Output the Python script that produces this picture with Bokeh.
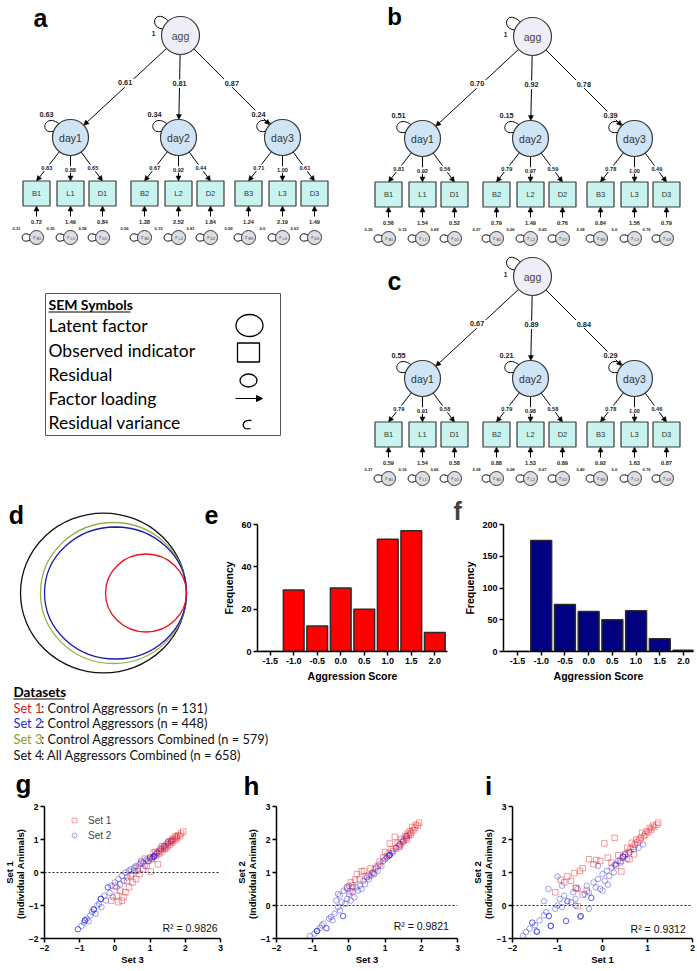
import math
from bokeh.plotting import figure
from bokeh.layouts import column, row
from bokeh.models import (Range1d, Label, Span, Legend, LegendItem, ColumnDataSource,
                          FixedTicker, Arrow, NormalHead, PrintfTickFormatter)
from bokeh.core.properties import value
from bokeh.embed import file_html
from bokeh.resources import INLINE

FONT = "Liberation Sans"
CAL = "Lato"

# ------------------------------------------------------------------ data
indicator_names = ["B1", "L1", "D1", "B2", "L2", "D2", "B3", "L3", "D3"]
day_names = ["day1", "day2", "day3"]

a_agg_var = 1
a_agg_loadings = [0.61, 0.81, 0.87]
a_day_variances = [0.63, 0.34, 0.24]
a_indicator_loadings = [0.83, 0.88, 0.65, 0.67, 0.92, 0.44, 0.71, 1.00, 0.61]
a_residual_loadings = [0.72, 1.49, 0.84, 1.38, 2.52, 1.84, 1.24, 2.19, 1.49]
a_residual_variances = [0.31, 0.35, 0.58, 0.56, 0.15, 0.81, 0.59, 0.0, 0.63]

b_agg_var = 1
b_agg_loadings = [0.70, 0.92, 0.78]
b_day_variances = [0.51, 0.15, 0.39]
b_indicator_loadings = [0.81, 0.92, 0.56, 0.79, 0.97, 0.59, 0.78, 1.00, 0.49]
b_residual_loadings = [0.56, 1.54, 0.52, 0.79, 1.49, 0.76, 0.84, 1.56, 0.79]
b_residual_variances = [0.35, 0.15, 0.69, 0.37, 0.06, 0.65, 0.38, 0.0, 0.76]

c_agg_var = 1
c_agg_loadings = [0.67, 0.89, 0.84]
c_day_variances = [0.55, 0.21, 0.29]
c_indicator_loadings = [0.79, 0.91, 0.58, 0.79, 0.98, 0.58, 0.78, 1.00, 0.46]
c_residual_loadings = [0.59, 1.54, 0.58, 0.88, 1.53, 0.89, 0.92, 1.63, 0.87]
c_residual_variances = [0.37, 0.16, 0.66, 0.38, 0.08, 0.67, 0.40, 0.0, 0.76]

sem_symbol_names = ["Latent factor", "Observed indicator", "Residual", "Factor loading", "Residual variance"]

set_names = ["Set 1", "Set 2", "Set 3", "Set 4"]
set_desc = [": Control Aggressors (n = 131)", ": Control Aggressors (n = 448)",
            ": Control Aggressors Combined (n = 579)", ": All Aggressors Combined (n = 658)"]

score_bins = [-1.5, -1.0, -0.5, 0.0, 0.5, 1.0, 1.5, 2.0]
set1_freq = [0, 29, 12, 30, 20, 53, 57, 9]
set2_freq = [0, 175, 74, 63, 50, 64, 20, 2]

g_set1_x = [1.94, 1.88, 1.85, 1.80, 1.76, 1.72, 1.70, 1.66, 1.62, 1.60, 1.56, 1.52, 1.50, 1.46, 1.42, 1.40,
            1.36, 1.32, 1.30, 1.26, 1.22, 1.20, 1.15, 1.10, 1.05, 1.02, 1.00, 0.95, 0.90, 0.85, 0.80, 0.75,
            0.70, 0.65, 0.60, 0.55, 0.50, 0.45, 0.40, 0.35, 0.30, 0.25, 0.20, 0.15, 0.10, 0.05, 0.00, -0.10,
            1.55, 1.65, 1.75, 1.45, 1.35, 1.25, 1.15]
g_set1_y = [1.24, 1.18, 1.10, 1.13, 1.05, 1.00, 1.08, 0.95, 0.98, 0.90, 0.85, 0.92, 0.80, 0.84, 0.72, 0.78,
            0.70, 0.62, 0.74, 0.58, 0.25, 0.55, 0.50, 0.60, 0.40, 0.03, 0.45, 0.35, 0.20, 0.42, 0.10, 0.30,
            -0.05, 0.15, -0.20, 0.05, -0.30, -0.10, -0.45, -0.25, -0.60, -0.75, -0.85, -0.55, -0.90, -0.70, -0.40, -0.85,
            0.95, 1.02, 1.10, 0.75, 0.80, 0.65, 0.62]
g_set2_x = [-1.05, -1.05, -0.95, -0.88, -0.85, -0.85, -0.85, -0.80, -0.75, -0.70, -0.65, -0.60, -0.60, -0.60,
            -0.55, -0.50, -0.45, -0.40, -0.40, -0.40, -0.38, -0.30, -0.25, -0.20, -0.20, -0.15, -0.10, -0.05,
            0.00, 0.05, 0.10, 0.15, 0.20, 0.25, 0.30, 0.35, 0.40, 0.45, 0.50, 0.55, 0.60, 0.65, 0.70, 0.75,
            0.80, 0.85, 0.90, 0.95, 1.00, 1.05, 1.10, 1.10, 1.10, 1.12, 1.15, 1.20, 1.30, 1.40, 1.50, 1.60]
g_set2_y = [-1.72, -1.72, -1.62, -1.52, -1.45, -1.45, -1.45, -1.40, -1.48, -1.30, -1.20, -1.12, -1.12, -1.12,
            -1.25, -1.00, -0.95, -0.80, -0.80, -0.80, -1.05, -0.70, -0.85, -0.45, -0.45, -0.62, -0.40, -0.75,
            -0.30, -0.45, -0.20, -0.35, -0.10, -0.25, 0.00, -0.15, 0.05, 0.10, -0.05, 0.15, 0.20, 0.05, 0.25, 0.35,
            0.30, 0.20, 0.40, 0.35, 0.45, 0.42, 0.48, 0.48, 0.48, 0.50, 0.55, 0.60, 0.70, 0.80, 0.90, 0.95]

h_set1_x = [1.94, 1.90, 1.85, 1.82, 1.78, 1.75, 1.72, 1.68, 1.65, 1.62, 1.58, 1.55, 1.52, 1.48, 1.45, 1.42,
            1.38, 1.35, 1.30, 1.27, 1.22, 1.18, 1.13, 1.10, 1.05, 1.00, 0.95, 0.85, 0.80, 0.72, 0.67, 0.60,
            0.55, 0.49, 0.42, 0.35, 0.30, 0.22, 0.17, 0.10, 0.03, -0.05, 0.05, 1.60, 1.70, 1.40]
h_set1_y = [2.51, 2.42, 2.45, 2.35, 2.28, 2.38, 2.20, 2.25, 2.12, 2.18, 2.05, 2.10, 1.98, 1.92, 2.02, 1.85,
            1.78, 1.90, 1.72, 2.08, 1.65, 1.70, 1.88, 1.58, 1.50, 1.62, 1.45, 1.33, 1.20, 1.10, 0.98, 1.12,
            0.92, 0.88, 1.05, 1.03, 0.80, 0.95, 0.78, 0.60, 0.43, 0.55, 0.70, 2.00, 2.15, 1.80]
h_set2_x = [-1.08, -0.95, -0.88, -0.88, -0.88, -0.80, -0.75, -0.70, -0.62, -0.62, -0.55, -0.50, -0.45, -0.40,
            -0.35, -0.30, -0.25, -0.20, -0.16, -0.16, -0.10, -0.05, 0.00, 0.05, 0.10, 0.15, 0.20, 0.25, 0.30,
            0.35, 0.40, 0.45, 0.50, 0.55, 0.60, 0.65, 0.70, 0.75, 0.80, 0.85, 0.90, 0.95, 1.00, 1.05, 1.10,
            1.13, 1.13, 1.13, 1.20, 1.30, 1.40, 1.50, 1.60, -0.25, -0.15, -0.05, 0.10, 0.00, -0.30]
h_set2_y = [-0.92, -0.85, -0.77, -0.77, -0.77, -0.68, -0.60, -0.55, -0.69, -0.69, -0.40, -0.35, -0.45, -0.25,
            0.15, -0.05, -0.15, 0.10, -0.32, -0.32, 0.05, 0.20, 0.35, 0.15, 0.40, 0.25, 0.55, 0.45, 0.60,
            0.50, 0.75, 0.65, 0.85, 0.80, 0.90, 1.00, 0.95, 1.15, 1.05, 1.25, 1.20, 1.35, 1.40, 1.45, 1.50,
            1.53, 1.53, 1.53, 1.60, 1.75, 1.85, 1.95, 2.10, 0.30, 0.45, 0.52, 0.55, 0.60, 0.35]

i_set1_x = [1.24, 1.20, 1.15, 1.12, 1.08, 1.05, 1.02, 0.98, 0.95, 0.92, 0.88, 0.85, 0.82, 0.78, 0.75, 0.72,
            0.68, 0.65, 0.62, 0.58, 0.55, 0.50, 0.45, 0.42, 0.40, 0.35, 0.27, 0.20, 0.12, 0.04, -0.05, -0.14,
            -0.20, -0.30, -0.44, -0.50, -0.63, -0.70, -0.78, -0.85, -0.93, -0.59, -0.59, -0.44, -0.55, -0.35,
            -1.05, 0.30, 0.60, 0.70]
i_set1_y = [2.51, 2.45, 2.38, 2.42, 2.30, 2.35, 2.22, 2.25, 2.15, 2.10, 2.20, 2.05, 1.98, 1.92, 2.00, 1.85,
            1.78, 1.90, 1.70, 1.62, 1.75, 1.55, 1.45, 1.03, 1.35, 1.52, 2.05, 1.30, 1.45, 1.88, 1.35, 1.38,
            1.25, 1.40, 1.13, 1.05, 0.98, 0.75, 0.88, 0.70, 0.78, 0.53, 0.53, 0.33, -0.02, 0.45,
            0.40, 1.20, 1.40, 1.55]
i_set2_x = [-1.77, -1.70, -1.62, -1.56, -1.56, -1.50, -1.46, -1.46, -1.46, -1.40, -1.30, -1.30, -1.25, -1.19,
            -1.19, -1.15, -1.15, -1.15, -1.05, -1.00, -1.00, -0.95, -0.90, -0.85, -0.81, -0.81, -0.78, -0.78,
            -0.70, -0.65, -0.60, -0.55, -0.50, -0.48, -0.48, -0.40, -0.35, -0.30, -0.25, -0.25, -0.20, -0.15,
            -0.10, -0.05, 0.00, 0.05, 0.10, 0.12, 0.15, 0.20, 0.25, 0.27, 0.30, 0.35, 0.40, 0.46, 0.46, 0.46,
            0.50, 0.55, 0.60, 0.70, 0.80, 0.90, -0.60, -0.30, 0.00, -0.90, -1.20, -0.10]
i_set2_y = [-0.92, -0.80, -0.70, -0.52, -0.52, -0.60, -0.79, -0.79, -0.79, -0.45, 0.13, -0.30, -0.20, -0.32,
            -0.32, -0.62, -0.62, -0.62, -0.10, 0.88, 0.00, 0.20, -0.05, 0.30, -0.47, -0.47, 0.13, 0.13,
            0.10, 0.40, 0.20, 0.50, -0.35, -0.32, -0.32, 0.35, 0.60, 0.40, 0.23, 0.23, 0.70, 0.55,
            0.80, 0.50, 0.95, 0.75, 1.05, 0.63, 0.90, 1.15, 1.00, 1.23, 1.25, 1.35, 1.30, 1.48, 1.48, 1.48,
            1.55, 1.40, 1.60, 1.70, 1.75, 1.85, 0.00, -0.10, 0.45, 0.60, 0.50, 1.20]

r_squared = [0.9826, 0.9821, 0.9312]

# ------------------------------------------------------------------ styles
RED = "#e8121b"
BLUE = "#2a2ad2"
GREEN = "#7f9b35"
NAVY = "#000080"
AGG_FILL = "#efedf5"
DAY_FILL = "#cfe5f6"
BOX_FILL = "#c8f3ef"
RES_FILL = "#dedee2"
EDGE = "#3a3a3a"


def fmt(v):
    if v == 0:
        return "0.0"
    return f"{v:.2f}"


def bare(p):
    p.grid.visible = False
    p.outline_line_color = None
    p.frame_align = False


def canvas(w, x0, x1, y_top, y_bot):
    p = figure(width=w, height=y_bot - y_top, x_range=Range1d(x0, x1), y_range=Range1d(y_bot, y_top),
               output_backend="svg", toolbar_location=None, min_border=0,
               x_axis_location=None, y_axis_location=None)
    bare(p)
    return p


def add_text(p, xs, ys, texts, size, bold=False, color="#222222", align="center", bg=False, font=FONT):
    if bg:
        w = [len(t) * float(size) * 0.56 + 1 for t in texts]
        p.rect(x=xs, y=ys, width=w, height=float(size) + 1, fill_color="white", line_color=None)
    p.text(x=xs, y=ys, text=texts, text_font=value(font), text_font_size=f"{size}px",
           text_font_style="bold" if bold else "normal", text_color=color,
           text_align=align, text_baseline="middle")


# ------------------------------------------------------------------ top figure (SEM)
top = canvas(697, 0, 697, 0, 486)

AGG_R, DAY_R, RES_R = 19, 18, 7
DAY_DX = [-110, -2, 102]
DAY_DY = 102
BOX_DX = [-34, 0, 32]
BOX_DY = 158
BOX_W, BOX_H = 27, 25
RES_DY = 202
RESVAL_DY = 186


def draw_sem(p, ox, oy, agg_var, agg_l, day_v, ind_l, res_l, res_v):
    arr = dict(x0=[], y0=[], x1=[], y1=[])
    loops = dict(x0=[], y0=[], x1=[], y1=[], cx0=[], cy0=[], cx1=[], cy1=[])
    lab_big = dict(x=[], y=[], t=[])
    lab_small = dict(x=[], y=[], t=[])
    lab_tiny = dict(x=[], y=[], t=[])

    def loop(*vals):
        for k, v in zip(["x0", "y0", "x1", "y1", "cx0", "cy0", "cx1", "cy1"], vals):
            loops[k].append(v)

    ax, ay = ox, oy
    dcx = [ax + d for d in DAY_DX]
    dcy = ay + DAY_DY
    loop(ax - 17.9, ay - 6.5, ax - 12.2, ay - 14.6, ax - 32, ay - 8, ax - 26, ay - 28)

    box_x = []
    for k in range(3):
        dx, dy = dcx[k] - ax, dcy - ay
        L = math.hypot(dx, dy)
        ux, uy = dx / L, dy / L
        sx, sy = ax + AGG_R * ux, ay + AGG_R * uy
        ex, ey = dcx[k] - DAY_R * ux, dcy - DAY_R * uy
        arr["x0"].append(sx); arr["y0"].append(sy); arr["x1"].append(ex); arr["y1"].append(ey)
        lab_big["x"].append(sx + 0.5 * (ex - sx)); lab_big["y"].append(sy + 0.45 * (ey - sy))
        lab_big["t"].append(fmt(agg_l[k]))
        cx, cy = dcx[k], dcy
        loop(cx - 16.9, cy - 6.2, cx - 11.6, cy - 13.8, cx - 32, cy - 3, cx - 26, cy - 25)
        lab_big["x"].append(cx - 24); lab_big["y"].append(cy - 23); lab_big["t"].append(fmt(day_v[k]))
        for j in range(3):
            idx = 3 * k + j
            bx = cx + BOX_DX[j]
            btop = ay + BOX_DY - BOX_H / 2
            vx, vy = bx - cx, btop - cy
            L2 = math.hypot(vx, vy)
            sx2, sy2 = cx + DAY_R * vx / L2, cy + DAY_R * vy / L2
            arr["x0"].append(sx2); arr["y0"].append(sy2); arr["x1"].append(bx); arr["y1"].append(btop)
            lab_small["x"].append(sx2 + 0.55 * (bx - sx2)); lab_small["y"].append(sy2 + 0.55 * (btop - sy2))
            lab_small["t"].append(fmt(ind_l[idx]))
            bbot = ay + BOX_DY + BOX_H / 2
            arr["x0"].append(bx); arr["y0"].append(ay + RESVAL_DY - 5); arr["x1"].append(bx); arr["y1"].append(bbot)
            lab_small["x"].append(bx); lab_small["y"].append(ay + RESVAL_DY); lab_small["t"].append(fmt(res_l[idx]))
            ry = ay + RES_DY
            loop(bx - 6.5, ry + 2.5, bx - 6.5, ry - 2.5, bx - 17, ry + 8, bx - 17, ry - 8)
            lab_tiny["x"].append(bx - 20); lab_tiny["y"].append(ry - 9); lab_tiny["t"].append(fmt(res_v[idx]))
            box_x.append(bx)

    p.add_layout(Arrow(end=NormalHead(size=5, fill_color="black", line_color="black", line_width=0.5),
                       x_start="x0", y_start="y0", x_end="x1", y_end="y1",
                       line_color="black", line_width=1, level="underlay",
                       source=ColumnDataSource(arr)))
    p.bezier(x0="x0", y0="y0", x1="x1", y1="y1", cx0="cx0", cy0="cy0", cx1="cx1", cy1="cy1",
             line_color="black", line_width=1, source=ColumnDataSource(loops))

    p.circle(x=[ax], y=[ay], radius=AGG_R, fill_color=AGG_FILL, line_color=EDGE, line_width=1.2)
    p.circle(x=dcx, y=[dcy] * 3, radius=DAY_R, fill_color=DAY_FILL, line_color=EDGE, line_width=1.2)
    p.rect(x=box_x, y=[ay + BOX_DY] * 9, width=BOX_W, height=BOX_H, fill_color=BOX_FILL,
           line_color=EDGE, line_width=1.2)
    p.circle(x=box_x, y=[ay + RES_DY] * 9, radius=RES_R, fill_color=RES_FILL, line_color=EDGE, line_width=1)

    add_text(p, [ax], [ay], ["agg"], 10.5, color="#444444")
    add_text(p, dcx, [dcy] * 3, day_names, 10.5, color="#333333")
    add_text(p, box_x, [ay + BOX_DY] * 9, indicator_names, 7.5, color="#333333")
    add_text(p, [b - 2.3 for b in box_x], [ay + RES_DY - 1] * 9, ["r"] * 9, 6, color="#333333")
    add_text(p, [b + 2.2 for b in box_x], [ay + RES_DY + 1.2] * 9, indicator_names, 3.8, color="#333333")

    add_text(p, [ax - 27], [ay - 2], [str(agg_var)], 6.5, bold=True)
    add_text(p, lab_big["x"], lab_big["y"], lab_big["t"], 7.3, bold=True, bg=True)
    add_text(p, lab_small["x"], lab_small["y"], lab_small["t"], 5.6, bold=True, bg=True)
    add_text(p, lab_tiny["x"], lab_tiny["y"], lab_tiny["t"], 4.2, bold=True)


draw_sem(top, 180, 35, a_agg_var, a_agg_loadings, a_day_variances, a_indicator_loadings,
         a_residual_loadings, a_residual_variances)
draw_sem(top, 532, 36, b_agg_var, b_agg_loadings, b_day_variances, b_indicator_loadings,
         b_residual_loadings, b_residual_variances)
draw_sem(top, 532, 276, c_agg_var, c_agg_loadings, c_day_variances, c_indicator_loadings,
         c_residual_loadings, c_residual_variances)

add_text(top, [40], [17], ["a"], 25, bold=True, color="black")
add_text(top, [394], [16], ["b"], 24, bold=True, color="black")
add_text(top, [394], [280], ["c"], 25, bold=True, color="black")

# SEM symbols legend box
top.rect(x=[162.5], y=[364], width=235, height=142, fill_color=None, line_color="#555555", line_width=1)
add_text(top, [48], [304], ["SEM Symbols"], 14, bold=True, color="black", align="left", font=CAL)
top.segment(x0=[48], y0=[311.5], x1=[130], y1=[311.5], line_color="black", line_width=1.2)
sym_y = [325, 350, 374, 398, 422]
add_text(top, [48] * 5, sym_y, sem_symbol_names, 17.5, color="black", align="left", font=CAL)
top.ellipse(x=[249], y=[sym_y[0]], width=27, height=22, fill_color=None, line_color="black", line_width=1.3)
top.rect(x=[248], y=[sym_y[1] + 2], width=22, height=19, fill_color=None, line_color="black", line_width=1.3)
top.ellipse(x=[248], y=[sym_y[2] + 6], width=17, height=13, fill_color=None, line_color="black", line_width=1.3)
top.add_layout(Arrow(end=NormalHead(size=6, fill_color="black", line_color="black"),
                     x_start=235, y_start=sym_y[3], x_end=262, y_end=sym_y[3], line_width=1.2))
top.bezier(x0=[251], y0=[420], x1=[250], y1=[428], cx0=[240], cy0=[418], cx1=[240], cy1=[431],
           line_color="black", line_width=1.3)

# ------------------------------------------------------------------ d panel (Euler circles)
dfig = canvas(220, 0, 220, 486, 684)
circ_cols = [RED, "#1c1cb0", "#93b04c", "#111111"]
widths = [81, 142, 146, 166]
heights = [78, 132, 141, 160]
right_edge = 186
for k in [3, 2, 1, 0]:
    dfig.ellipse(x=[right_edge - widths[k] / 2], y=[592.5], width=widths[k], height=heights[k],
                 fill_color=None, line_color=circ_cols[k], line_width=1.3)
add_text(dfig, [16], [514], ["d"], 25, bold=True, color="black")
add_text(dfig, [211], [514], ["e"], 25, bold=True, color="black")


# ------------------------------------------------------------------ histograms
def style_axes(p, tick_size, title_size, label_standoff, title_standoff):
    for a in p.axis:
        a.axis_line_width = 1.5
        a.axis_line_color = "black"
        a.major_tick_line_width = 1.5
        a.major_tick_line_color = "black"
        a.major_tick_out = 4
        a.major_tick_in = 0
        a.minor_tick_out = 0
        a.minor_tick_in = 0
        a.major_label_text_font = FONT
        a.major_label_text_font_size = tick_size
        a.major_label_text_font_style = "bold"
        a.major_label_text_color = "black"
        a.major_label_standoff = label_standoff
        a.axis_label_text_font = FONT
        a.axis_label_text_font_size = title_size
        a.axis_label_text_font_style = "bold"
        a.axis_label_text_color = "black"
        a.axis_label_standoff = title_standoff


def hist(freqs, color, yend, yticks, width, left, right, xr):
    p = figure(width=width, height=198, x_range=Range1d(*xr), y_range=Range1d(0, yend),
               output_backend="svg", toolbar_location=None,
               min_border_left=left, min_border_right=right, min_border_top=38, min_border_bottom=31)
    bare(p)
    p.vbar(x=score_bins, top=freqs, width=0.44, bottom=0, fill_color=color,
           line_color="#2b2b2b", line_width=1.5)
    p.xaxis.ticker = FixedTicker(ticks=score_bins)
    p.xaxis.formatter = PrintfTickFormatter(format="%.1f")
    p.yaxis.ticker = FixedTicker(ticks=yticks)
    p.xaxis.axis_label = "Aggression Score"
    p.yaxis.axis_label = "Frequency"
    style_axes(p, "9px", "10.5px", 2, 3)
    return p


efig = hist(set1_freq, "#ff0000", 60, [0, 20, 40, 60], 230, 34, 3, (-1.77, 2.27))
ffig = hist(set2_freq, NAVY, 200, [0, 50, 100, 150, 200], 247, 53, 4, (-1.795, 2.21))
ffig.title.text = "f"
ffig.title.align = "left"
ffig.title.offset = -50
ffig.title.standoff = 0
ffig.title.text_font = FONT
ffig.title.text_font_size = "25px"
ffig.title.text_font_style = "bold"

# ------------------------------------------------------------------ dataset text + panel letters g h i
tfig = canvas(697, 0, 697, 684, 801)
add_text(tfig, [13], [691], ["Datasets"], 13.5, bold=True, color="black", align="left", font=CAL)
tfig.segment(x0=[13], y0=[698.5], x1=[64], y1=[698.5], line_color="black", line_width=1.2)
ty = [707, 722.5, 738, 754]
set_cols = [RED, BLUE, GREEN, "#111111"]
for k in range(4):
    add_text(tfig, [13], [ty[k]], [set_names[k]], 12.8, color=set_cols[k], align="left", font=CAL)
    add_text(tfig, [40.5], [ty[k]], [set_desc[k]], 12.8, color="#111111", align="left", font=CAL)
add_text(tfig, [23, 251, 488], [783, 785, 785], ["g", "h", "i"], 26, bold=True, color="black")


# ------------------------------------------------------------------ scatter plots
def scatter(x1, y1, x2, y2, xr, yr, xt, yt, width, left, right, xlabel, ylabel, r2, r2x, r2y, legend):
    p = figure(width=width, height=168, x_range=Range1d(*xr), y_range=Range1d(*yr),
               output_backend="svg", toolbar_location=None,
               min_border_left=left, min_border_right=right, min_border_top=5, min_border_bottom=31)
    bare(p)
    p.add_layout(Span(location=0, dimension="width", line_color="#222222", line_width=1.1, line_dash="2 2"))
    ra = p.scatter(x=x1, y=y1, marker="square", size=5.5, fill_alpha=0, line_color=RED,
                   line_alpha=0.42, line_width=1)
    rb = p.scatter(x=x2, y=y2, marker="circle", size=5.5, fill_alpha=0, line_color="#2020e0",
                   line_alpha=0.42, line_width=1)
    p.xaxis.ticker = FixedTicker(ticks=xt)
    p.yaxis.ticker = FixedTicker(ticks=yt)
    p.xaxis.axis_label = xlabel
    p.yaxis.axis_label = ylabel
    style_axes(p, "8.5px", "9.5px", 2, 0)
    p.yaxis.axis_label_text_line_height = 1.0
    p.add_layout(Label(x=r2x, y=r2y, text=f"R² = {r2:.4f}",
                       text_font=FONT, text_font_size="10.5px", text_align="right",
                       text_baseline="middle", text_color="#111111"))
    if legend:
        leg = Legend(items=[LegendItem(label="Set 1", renderers=[ra]), LegendItem(label="Set 2", renderers=[rb])],
                     location=(24, 96), background_fill_alpha=0, border_line_alpha=0,
                     label_text_font=FONT, label_text_font_size="10px", glyph_width=12, glyph_height=14,
                     label_height=14, spacing=1, padding=0, margin=0, label_standoff=8)
        p.add_layout(leg)
    return p


gfig = scatter(g_set1_x, g_set1_y, g_set2_x, g_set2_y, (-2, 3), (-2, 2), [-2, -1, 0, 1, 2, 3],
               [-2, -1, 0, 1, 2], 232, 40, 12, "Set 3", "Set 1\n(Individual  Animals)", r_squared[0],
               2.92, -1.67, True)
hfig = scatter(h_set1_x, h_set1_y, h_set2_x, h_set2_y, (-2, 3), (-1, 3), [-2, -1, 0, 1, 2, 3],
               [-1, 0, 1, 2, 3], 236, 41, 11, "Set 3", "Set 2\n(Individual  Animals)", r_squared[1],
               2.76, -0.61, False)
ifig = scatter(i_set1_x, i_set1_y, i_set2_x, i_set2_y, (-2, 2), (-1, 3), [-2, -1, 0, 1, 2],
               [-1, 0, 1, 2, 3], 229, 42, 5, "Set 1", "Set 2\n(Individual  Animals)", r_squared[2],
               1.85, -0.70, False)

layout = column(top, row(dfig, efig, ffig), tfig, row(gfig, hfig, ifig))
open("out.html", "w").write(file_html(layout, INLINE))
